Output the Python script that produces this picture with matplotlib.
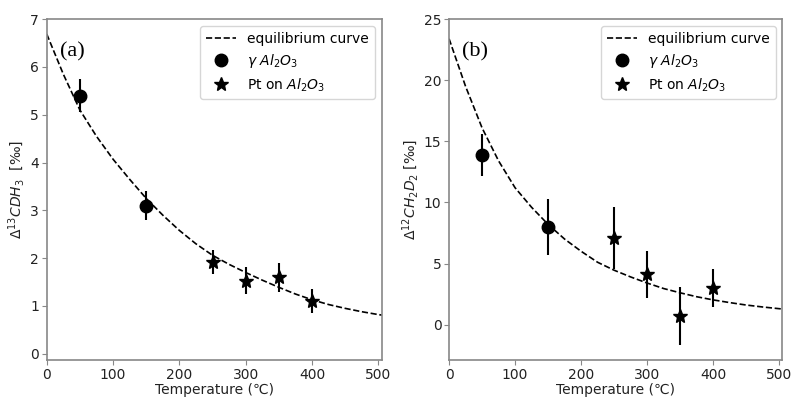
import numpy as np
import matplotlib.pyplot as plt

# equilibrium curves
curve_T = [0, 25, 50, 75, 100, 125, 150, 175, 200, 225, 250, 275, 300,
           325, 350, 375, 400, 425, 450, 475, 500, 510]
curve_a = [6.69, 5.85, 5.10, 4.55, 4.07, 3.65, 3.25, 2.90, 2.58, 2.30, 2.06,
           1.87, 1.70, 1.54, 1.39, 1.25, 1.13, 1.03, 0.95, 0.88, 0.82, 0.80]
curve_b = [23.4, 19.5, 16.1, 13.4, 11.2, 9.6, 8.2, 7.0, 6.0, 5.1, 4.45,
           3.9, 3.4, 2.95, 2.6, 2.28, 2.02, 1.8, 1.6, 1.44, 1.3, 1.25]

# gamma Al2O3 measurements
gam_T = [50, 150]
gam_a = [5.40, 3.10]
gam_a_err = [0.35, 0.30]
gam_b = [13.9, 8.0]
gam_b_err = [1.7, 2.3]

# Pt on Al2O3 measurements
pt_T = [250, 300, 350, 400]
pt_a = [1.92, 1.53, 1.60, 1.10]
pt_a_err = [0.25, 0.28, 0.30, 0.25]
pt_b = [7.1, 4.1, 0.7, 3.0]
pt_b_err = [2.55, 1.95, 2.4, 1.55]

fig = plt.figure(figsize=(7.92, 4.0), dpi=100)
ax1 = fig.add_axes([0.059, 0.10, 0.423, 0.852])
ax2 = fig.add_axes([0.567, 0.10, 0.421, 0.852])

panels = [
    (ax1, curve_a, gam_a, gam_a_err, pt_a, pt_a_err, '(a)',
     r'$\Delta^{13}CDH_3$  [‰]', (-0.13, 7), np.arange(0, 8, 1)),
    (ax2, curve_b, gam_b, gam_b_err, pt_b, pt_b_err, '(b)',
     r'$\Delta^{12}CH_2D_2$ [‰]', (-2.9, 25), np.arange(0, 26, 5)),
]

for ax, cv, g, ge, p, pe, tag, ylab, ylim, yt in panels:
    ax.plot(curve_T, cv, '--', color='black', lw=1.2, label='equilibrium curve')
    ax.errorbar(gam_T, g, yerr=ge, fmt='none', ecolor='black', elinewidth=1.5, capsize=0)
    ax.errorbar(pt_T, p, yerr=pe, fmt='none', ecolor='black', elinewidth=1.5, capsize=0)
    ax.plot(gam_T, g, 'o', color='black', ms=9, ls='none', label=r'$\gamma\ Al_2O_3$')
    ax.plot(pt_T, p, '*', color='black', ms=10, ls='none', label=r'Pt on $Al_2O_3$')
    ax.set_xlim(0, 505)
    ax.set_ylim(*ylim)
    ax.set_xticks([0, 100, 200, 300, 400, 500])
    ax.set_yticks(yt)
    ax.set_xlabel('Temperature (℃)', fontsize=10, color='#222222', labelpad=1)
    ax.set_ylabel(ylab, fontsize=10, color='#222222', labelpad=2)
    ax.tick_params(labelsize=10, pad=2, colors='#888888', labelcolor='#222222')
    for s in ax.spines.values():
        s.set_color('#888888')
        s.set_linewidth(1.2)
    ax.text(0.04, 0.905, tag, transform=ax.transAxes, fontsize=16,
            family='Liberation Serif', va='center')
    leg = ax.legend(loc='upper right', fontsize=10, handlelength=2.2,
                    labelspacing=0.45)
    leg.get_frame().set_edgecolor('#cccccc')

fig.savefig('out.png', dpi=100)
